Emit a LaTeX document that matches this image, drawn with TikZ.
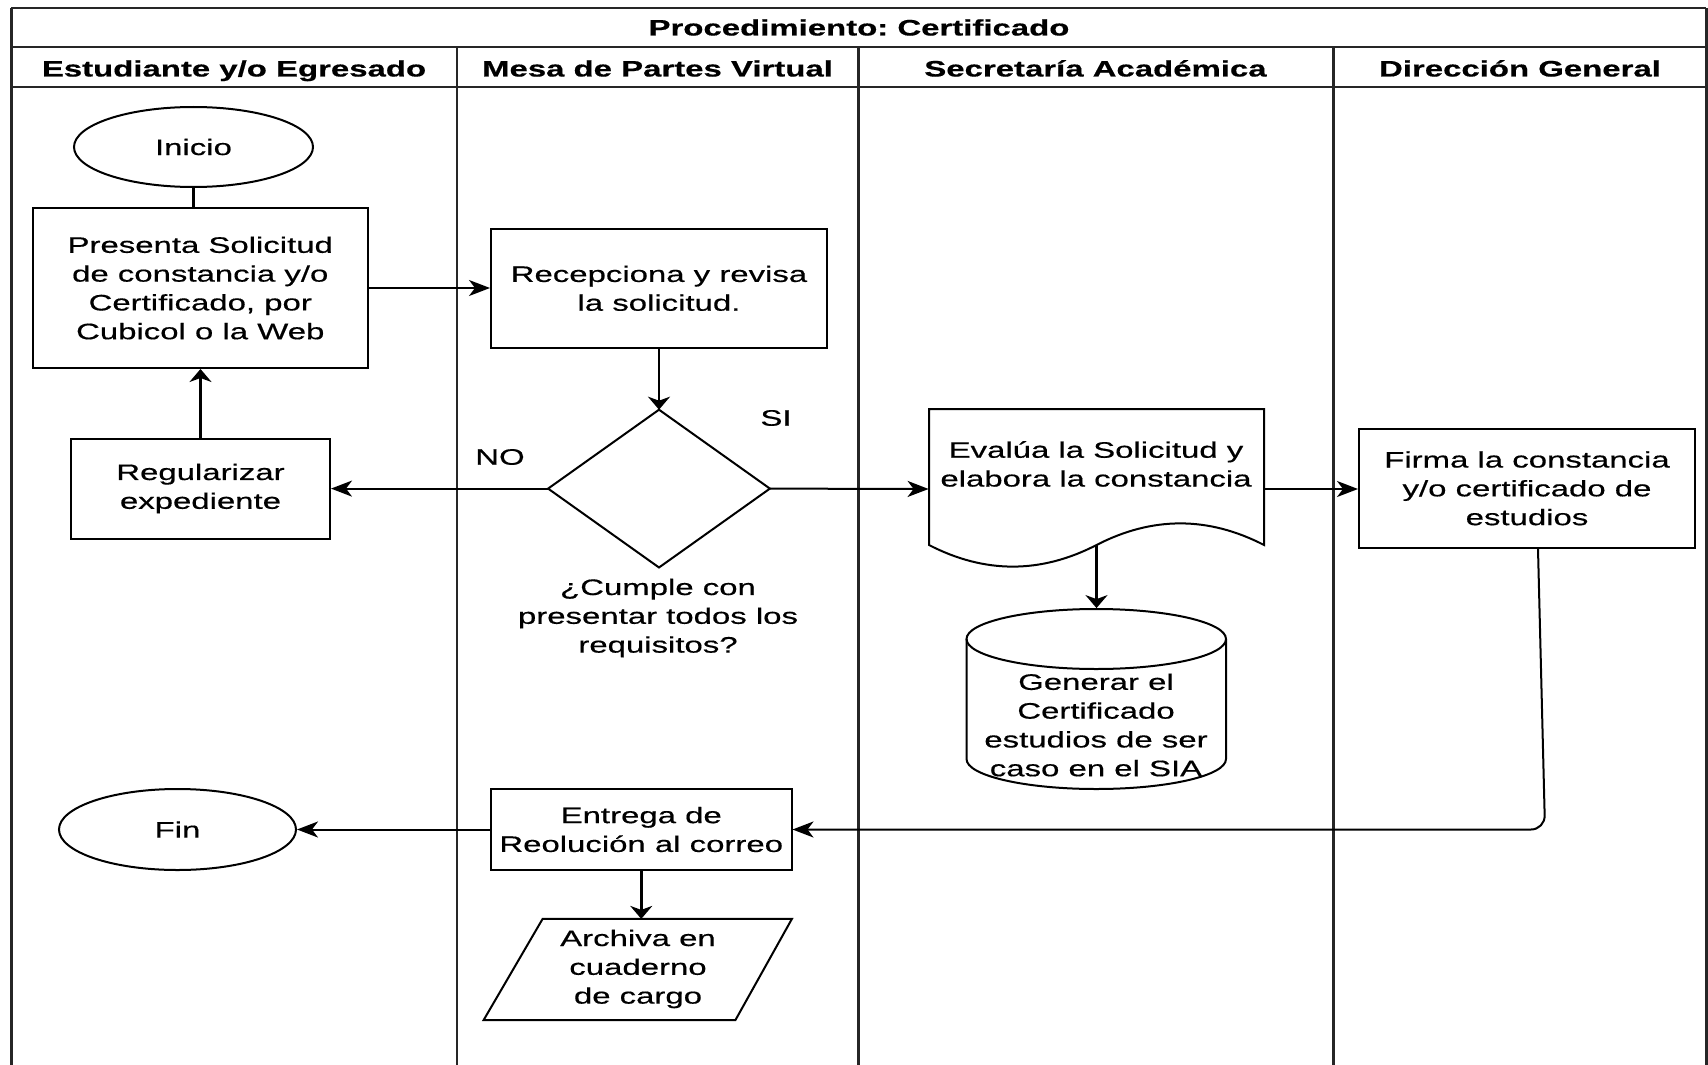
\documentclass[tikz,border=0pt]{standalone}
\usepackage{fontspec}
\setmainfont[FakeStretch=1.47, FakeBold=0.5]{Liberation Sans}
\usetikzlibrary{arrows.meta,shapes.geometric}
\begin{document}
\begin{tikzpicture}[x=0.5pt,y=-0.5pt,
  every node/.style={font=\fontsize{11.2}{14.4}\selectfont\frenchspacing, text=black, inner sep=0pt, align=center},
  lane/.style={draw=black!85, line width=1pt},
  vlane/.style={draw=black!85, line width=1.5pt},
  proc/.style={draw, line width=1pt, rectangle},
  term/.style={draw, line width=1pt, ellipse},
  ghost/.style={rectangle, draw=none},
  shp/.style={line width=1pt},
  conn/.style={line width=1.2pt},
  arrH/.style={line width=1pt, -{Stealth[length=10.5pt,width=8pt,inset=3pt]}},
  arrV/.style={line width=1.4pt, -{Stealth[length=6.5pt,width=11pt,inset=2pt]}},
  hdr/.style={font=\fontsize{11.2}{14.4}\selectfont\bfseries\frenchspacing, anchor=base}
]
\useasboundingbox (0,0) rectangle (1708,1065);
\fill[white] (0,0) rectangle (1708,1065);

% swimlane frame
\draw[lane] (11,8) -- (1706,8);
\draw[vlane] (11,1065) -- (11,8);
\draw[vlane] (1706,8) -- (1706,1065);
\draw[lane] (11,47) -- (1706,47);
\draw[lane] (11,87.5) -- (1706,87.5);
\draw[lane] (457,47) -- (457,1065);
\draw[vlane] (858,47) -- (858,1065);
\draw[vlane] (1333,47) -- (1333,1065);

\node[hdr] (title) at (859,35.5) {Procedimiento: Certificado};
\node[hdr] (h1) at (234,76.5) {Estudiante y/o Egresado};
\node[hdr] (h2) at (657.5,76.5) {Mesa de Partes Virtual};
\node[hdr] (h3) at (1095.5,76.5) {Secretaría Académica};
\node[hdr] (h4) at (1520,76.5) {Dirección General};

% flow nodes
\node[term, minimum width=119.5pt, minimum height=40pt] (inicio) at (193.5,147) {Inicio};
\node[proc, minimum width=167.25pt, minimum height=80pt] (pres) at (200.25,288)
  {Presenta Solicitud\\de constancia y/o\\Certificado, por\\Cubicol o la Web};
\node[proc, minimum width=168pt, minimum height=59.7pt] (rec) at (659,288.3)
  {Recepciona y revisa\\la solicitud.};
\node[proc, minimum width=129.5pt, minimum height=50pt] (reg) at (200.5,488.6)
  {Regularizar\\expediente};

% decision
\node[ghost, minimum width=110.5pt, minimum height=78.5pt] (dia) at (659,488.6) {};
\draw[shp] (dia.north) -- (dia.east) -- (dia.south) -- (dia.west) -- cycle;
\node (q) at (658,618) {¿Cumple con\\presentar todos los\\requisitos?};
\node (si) at (776,418) {SI};
\node (no) at (500,457) {NO};

% document shape
\node[ghost, minimum width=167.5pt, minimum height=80pt] (doc) at (1096.5,489) {};
\draw[shp] (929,409) -- (1264,409) -- (1264,545)
  .. controls (1208.2,516.2) and (1152.3,516.2) .. (1096.5,545)
  .. controls (1040.7,573.8) and (984.8,573.8) .. (929,545) -- cycle;
\node (doctxt) at (1096,464) {Evalúa la Solicitud y\\elabora la constancia};
\coordinate (docbot) at (1096.5,545);

\node[proc, minimum width=168pt, minimum height=59.7pt] (firma) at (1527,488.3)
  {Firma la constancia\\y/o certificado de\\estudios};

% database cylinder
\node[ghost, minimum width=129.75pt, minimum height=90.5pt] (cyl) at (1096.2,699) {};
\draw[shp] (966.5,639) -- (966.5,759) arc[start angle=180, end angle=0, x radius=129.75, y radius=30]
  -- (1226,639);
\draw[shp] (1096.25,639) ellipse[x radius=129.75, y radius=30];
\node (cyltxt) at (1096,725) {Generar el\\Certificado\\estudios de ser\\caso en el SIA};

\node[proc, minimum width=150.25pt, minimum height=40.5pt] (ent) at (641.25,829.5)
  {Entrega de\\Reolución al correo};
\node[term, minimum width=118.5pt, minimum height=40.5pt] (fin) at (177.5,829.5) {Fin};

% data (parallelogram)
\node[ghost, minimum width=153.75pt, minimum height=50.2pt] (arch) at (637.75,969.5) {};
\draw[shp] ([xshift=29.5pt]arch.north west) -- (arch.north east)
  -- ([xshift=-28.25pt]arch.south east) -- (arch.south west) -- cycle;
\node (archtxt) at (638,969) {Archiva en\\cuaderno\\de cargo};

% connectors
\draw[conn] (inicio.south) -- (inicio.south |- pres.north);
\draw[arrH] (pres.east) -- (pres.east -| rec.west);
\draw[arrV] (rec.south) -- (dia.north);
\draw[arrH] (dia.west) -- (reg.east);
\draw[arrV] (reg.north) -- (reg.north |- pres.south);
\draw[arrH] (dia.east) -- (doc.west);
\draw[arrH] (doc.east) -- (doc.east -| firma.west);
\draw[arrV] (docbot) -- (docbot |- cyl.north);
\coordinate (bend) at (1545,829.5);
\draw[arrH, rounded corners=7pt] ([xshift=5.5pt]firma.south) -- (bend) -- (ent.east);
\draw[arrH] (ent.west) -- (fin.east);
\draw[arrV] (ent.south) -- (ent.south |- arch.north);
\end{tikzpicture}
\end{document}
